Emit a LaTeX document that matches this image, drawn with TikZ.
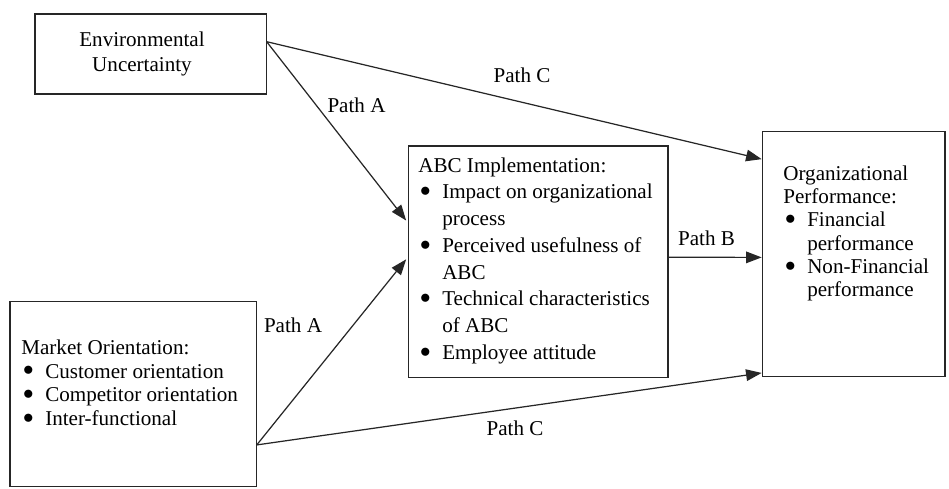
\documentclass[tikz,border=0pt]{standalone}
\usepackage{fontspec}
\setmainfont{Liberation Serif}
\usetikzlibrary{arrows.meta,calc}
\newcommand{\bl}{\makebox[13.6pt][l]{\hspace{1pt}\raisebox{0.1em}{$\bullet$}}}
\newcommand{\cn}{\hspace*{13.6pt}}

\begin{document}
\begin{tikzpicture}[scale=0.2]
\tikzstyle{every node}+=[inner sep=0pt, font=\fontsize{12}{14}\selectfont]
\tikzstyle{box}=[draw=black!85, line width=0.8pt, outer sep=0pt]
\tikzstyle{txt}=[anchor=north west, align=left]
\tikzstyle{link}=[draw=black!85, line width=0.7pt, -{Triangle[length=8.9pt,width=6.6pt]}, shorten >=0.6pt]
\useasboundingbox (0,0) rectangle (94.9,-48.8);
\node [box, minimum width=4.634cm, minimum height=1.6cm] (env) at (15.08,-5.4) {};
\node [box, minimum width=5.194cm, minimum height=4.626cm] (abc) at (53.82,-26.17) {};
\node [box, minimum width=3.646cm, minimum height=4.9cm] (org) at (85.39,-25.42) {};
\node [box, minimum width=4.934cm, minimum height=3.696cm] (mkt) at (13.34,-39.41) {};
\node [align=center, font=\fontsize{12}{14.6}\selectfont] (envtxt) at (14.2,-5.39) {Environmental\\Uncertainty};
\node [txt, font=\fontsize{12}{15.2}\selectfont] (abctxt) at (41.8,-15.72) {ABC Implementation:\\
  \bl Impact on organizational\\ \cn process\\
  \bl Perceived usefulness of\\ \cn ABC\\
  \bl Technical characteristics\\ \cn of ABC\\
  \bl Employee attitude};
\node [txt, font=\fontsize{12}{13.2}\selectfont] (orgtxt) at (78.3,-16.55) {Organizational\\ Performance:\\
  \bl Financial\\ \cn performance\\
  \bl Non-Financial\\ \cn performance};
\node [txt, font=\fontsize{12}{13.4}\selectfont] (mkttxt) at (2.1,-33.95) {Market Orientation:\\
  \bl Customer orientation\\
  \bl Competitor orientation\\
  \bl Inter-functional};
\draw [link, shorten >=2pt] ($(env.north east)!.346!(env.south east)$) -- ($(abc.north west)!.334!(abc.south west)$);
\draw [link] ($(env.north east)!.346!(env.south east)$) -- ($(org.north west)!.113!(org.south west)$);
\draw [link, shorten >=2pt] ($(mkt.north east)!.775!(mkt.south east)$) -- ($(abc.north west)!.478!(abc.south west)$);
\draw [link] ($(mkt.north east)!.775!(mkt.south east)$) -- ($(org.north west)!.984!(org.south west)$);
\draw [link] ($(abc.north east)!.481!(abc.south east)$) -- ($(org.north west)!.513!(org.south west)$);
\node (pathA1) at (35.65,-10.5) {Path A};
\node (pathA2) at (29.3,-32.5) {Path A};
\node (pathB) at (70.65,-23.8) {Path B};
\node (pathC1) at (52.2,-7.5) {Path C};
\node (pathC2) at (51.5,-42.8) {Path C};
\end{tikzpicture}
\end{document}
